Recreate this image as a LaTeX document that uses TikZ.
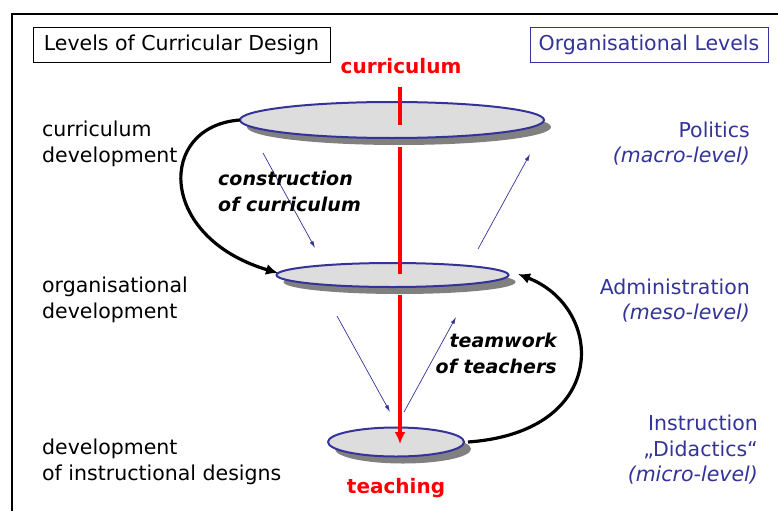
\documentclass[tikz,border=0pt]{standalone}
\usepackage{fontspec}
\setmainfont{DejaVu Sans}
\usetikzlibrary{shapes.geometric,arrows.meta,shadows}
\definecolor{navy}{RGB}{51,51,153}
\definecolor{diskfill}{RGB}{221,221,221}
\definecolor{shadegray}{RGB}{128,128,128}
\begin{document}
\begin{tikzpicture}[x=1pt,y=-1pt,
  lbl/.style={font=\fontsize{20.5}{25.5}\selectfont, inner sep=0pt},
  bluelbl/.style={lbl, text=navy, align=right, anchor=east},
  blacklbl/.style={lbl, align=left, anchor=west},
  redlbl/.style={font=\fontsize{20}{25}\selectfont\bfseries, text=red, inner sep=0pt},
  emph/.style={font=\fontsize{19}{26}\selectfont\bfseries\itshape, inner sep=0pt},
  titlebox/.style={draw, line width=0.8pt, minimum height=35, inner sep=0pt, font=\fontsize{20.5}{25}\selectfont},
  disk/.style={ellipse, draw=navy, line width=2pt, fill=diskfill, inner sep=0pt,
    drop shadow={shadow xshift=7pt, shadow yshift=-7pt, fill=shadegray, opacity=1}},
  bigarrow/.style={line width=3.2pt, -{Latex[length=12pt,width=11pt]}},
  thinarrow/.style={draw=navy, line width=0.7pt, -{Latex[length=7pt,width=4pt]}},
  redline/.style={draw=red, line width=3.3pt}
]
\useasboundingbox (0,0) rectangle (778,511);

% frame
\coordinate (fbl) at (12,511);
\coordinate (ftl) at (12,14);
\coordinate (ftr) at (778,14);
\draw[line width=1.6pt] (fbl) -- (ftl) -- (ftr);

% title boxes
\node[titlebox, minimum width=297] (lcd) at (181.5,44.5) {Levels of Curricular Design};
\node[titlebox, minimum width=238, draw=navy, text=navy] (ol) at (649,44.5) {Organisational Levels};

% disks
\node[disk, minimum width=304, minimum height=36] (e1) at (392,120) {};
\node[disk, minimum width=232, minimum height=24] (e2) at (392.5,275) {};
\node[disk, minimum width=136, minimum height=29] (e3) at (396,442) {};

% red axis
\node[redlbl] (cur) at (401,66) {curriculum};
\node[redlbl] (teach) at (396,488) {teaching};
\coordinate (r0) at (400,87);
\coordinate (r1) at (400,125);
\coordinate (r2) at (400,147);
\coordinate (r3) at (400,274);
\coordinate (r4) at (400,295);
\coordinate (r5) at (400,444);
\draw[redline] (r0) -- (r1);
\draw[redline] (r2) -- (r3);
\draw[redline, -{Latex[length=12pt,width=11pt]}] (r4) -- (r5);

% big black arrows
\coordinate (c1s) at (240,120);
\coordinate (c1e) at (278,273);
\draw[bigarrow] (c1s) .. controls (157,126) and (157,237) .. (c1e);
\coordinate (c2s) at (468,442);
\coordinate (c2e) at (518,274);
\draw[bigarrow] (c2s) .. controls (610,432) and (605,308) .. (c2e);

% thin blue arrows
\coordinate (a1s) at (263,153); \coordinate (a1e) at (315,248);
\coordinate (a2s) at (478,249); \coordinate (a2e) at (530,154);
\coordinate (a3s) at (337,316); \coordinate (a3e) at (390,412);
\coordinate (a4s) at (404,412); \coordinate (a4e) at (456,317);
\draw[thinarrow] (a1s) -- (a1e);
\draw[thinarrow] (a2s) -- (a2e);
\draw[thinarrow] (a3s) -- (a3e);
\draw[thinarrow] (a4s) -- (a4e);

% italic labels
\node[emph, align=left, anchor=west] (cons) at (218,191) {construction\\of curriculum};
\node[emph, align=right, anchor=east] (team) at (557,353) {teamwork\\of teachers};

% left labels
\node[blacklbl] (l1) at (42,144) {curriculum\\development};
\node[blacklbl] (l2) at (42,300) {organisational\\development};
\node[blacklbl] (l3) at (42,462) {development\\of instructional designs};

% right labels
\node[bluelbl] (r1l) at (750,143.5) {Politics\\\itshape (macro-level)};
\node[bluelbl] (r2l) at (750,300.5) {Administration\\\itshape (meso-level)};
\node[bluelbl] (r3l) at (758,450) {Instruction\\„Didactics“\\\itshape (micro-level)};
\end{tikzpicture}
\end{document}
